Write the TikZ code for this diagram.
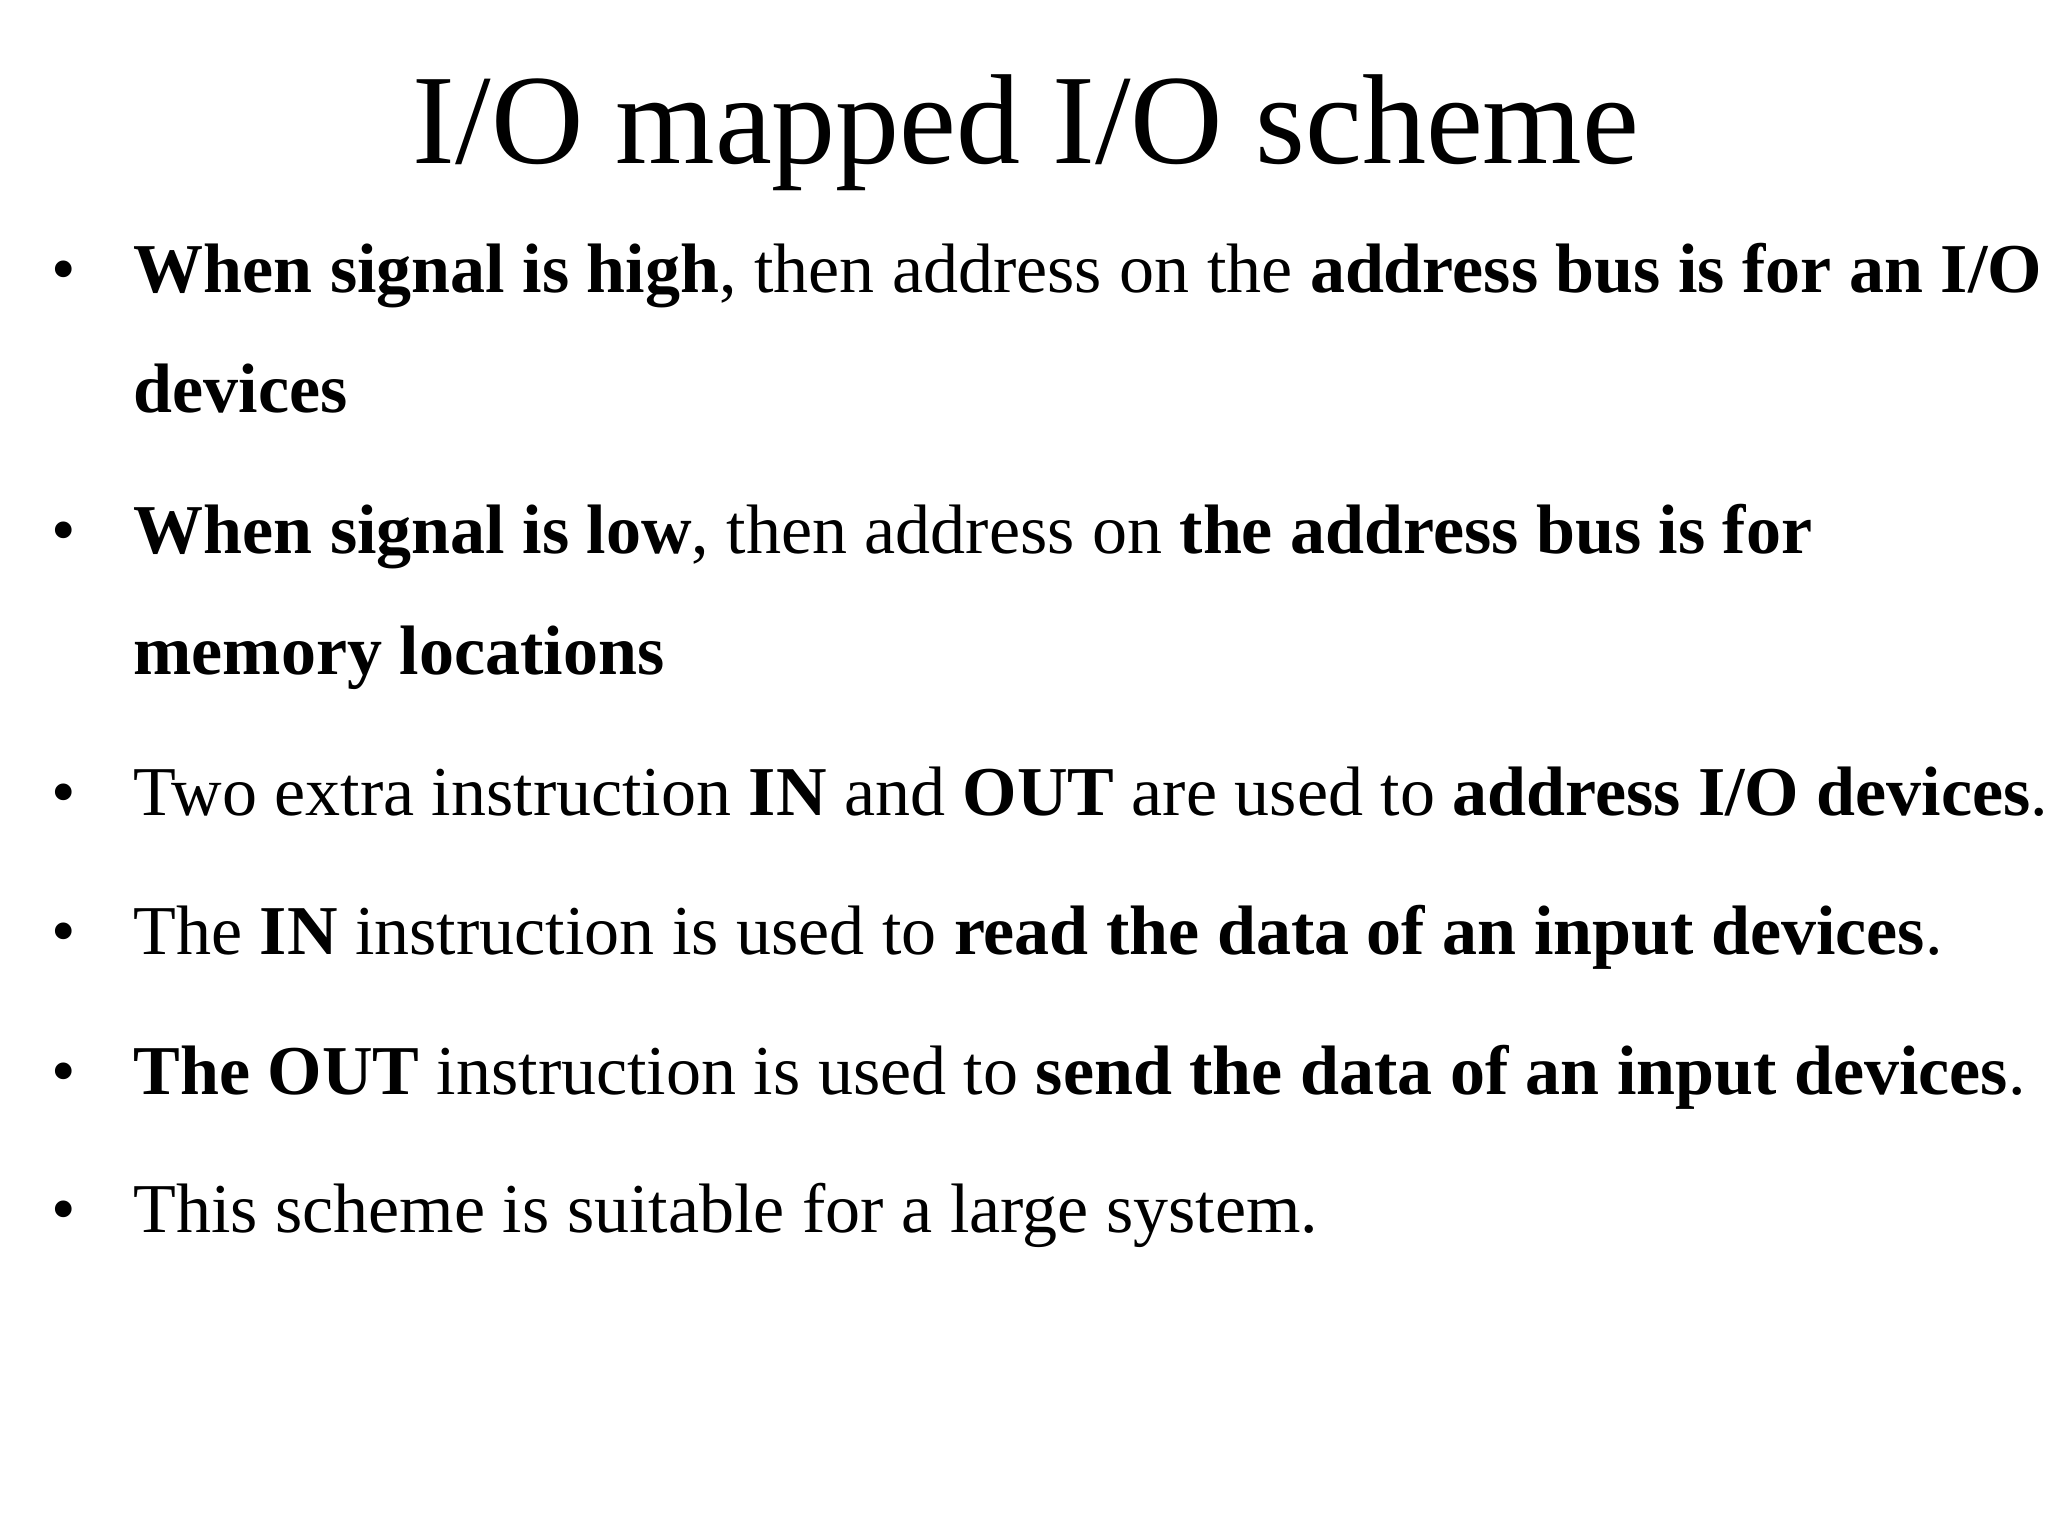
\documentclass[tikz,border=0pt]{standalone}
\usepackage{fontspec}
\setmainfont{Liberation Serif}
\begin{document}
\begin{tikzpicture}[x=1pt,y=1pt,
  ln/.style={anchor=base west,inner sep=0pt,font=\fontsize{35}{40}\selectfont},
  bl/.style={anchor=base,inner sep=0pt,font=\fontsize{35}{40}\selectfont}]
\useasboundingbox (0,0) rectangle (1024,-768);
\node[anchor=base,inner sep=0pt,font=\fontsize{64}{70}\selectfont] (title) at (513,-81.6) {I/O mapped I/O scheme};
\node[bl] (b1) at (32,-146.3) {•};
\node[ln] (l1) at (66.6,-146.3) {\textbf{When signal is high}, then address on the \textbf{address bus is for an I/O}};
\node[ln] (l1b) at (66.6,-206.3) {\textbf{devices}};
\node[bl] (b2) at (32,-276.9) {•};
\node[ln] (l2) at (66.6,-276.9) {\textbf{When signal is low}, then address on \textbf{the address bus is for}};
\node[ln] (l2b) at (66.6,-337) {\textbf{memory locations}};
\node[bl] (b3) at (32,-407.5) {•};
\node[ln] (l3) at (66.6,-407.5) {Two extra instruction \textbf{IN} and \textbf{OUT} are used to \textbf{address I/O devices}.};
\node[bl] (b4) at (32,-477.4) {•};
\node[ln] (l4) at (66.6,-477.4) {The \textbf{IN} instruction is used to \textbf{read the data of an input devices}.};
\node[bl] (b5) at (32,-547.2) {•};
\node[ln] (l5) at (66.6,-547.2) {\textbf{The OUT} instruction is used to \textbf{send the data of an input devices}.};
\node[bl] (b6) at (32,-616.4) {•};
\node[ln] (l6) at (66.6,-616.4) {This scheme is suitable for a large system.};
\end{tikzpicture}
\end{document}
